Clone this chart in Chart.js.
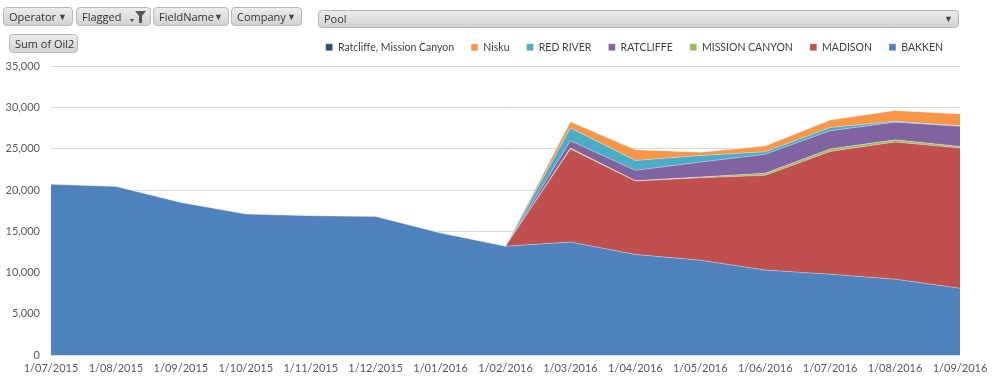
<!DOCTYPE html>
<html lang="en">

<head>
    <meta charset="UTF-8">
    <title>Sum of Oil2 by Pool</title>
    <script src="https://cdn.jsdelivr.net/npm/chart.js"></script>
    <style>
        body { margin: 0; background: #fff; width: 994px; height: 384px; overflow: hidden; position: relative; font-family: "Open Sans", sans-serif; }
        #wrap { position: absolute; left: 0; top: 0; width: 994px; height: 384px; }
        .btn {
            position: absolute; height: 17px; line-height: 17px; font-size: 11px; color: #333;
            border: 1px solid #b8b8b8; border-radius: 4px; padding-left: 5px; box-sizing: content-box;
            background: linear-gradient(#ececec, #d2d2d2);
        }
        .arrow { position: absolute; right: 5px; top: 0; font-size: 9px; color: #444; }
    </style>
</head>

<body>
    <div id="wrap"><canvas id="myChart"></canvas></div>

    <!-- botoes do pivot chart -->
    <div class="btn" style="left:3px;top:7px;width:63px;">Operator<span class="arrow">&#9660;</span></div>
    <div class="btn" style="left:76px;top:7px;width:68px;">Flagged
        <svg style="position:absolute;right:3px;top:2px" width="18" height="14">
            <polygon points="1,9 5,9 3,12" fill="#444" />
            <polygon points="6,1 17,1 13,6 13,13 10,13 10,6" fill="#555" />
        </svg>
    </div>
    <div class="btn" style="left:153px;top:7px;width:69px;">FieldName<span class="arrow">&#9660;</span></div>
    <div class="btn" style="left:231px;top:7px;width:64px;">Company<span class="arrow">&#9660;</span></div>
    <div class="btn" style="left:9px;top:34px;width:62px;">Sum of Oil2</div>
    <div class="btn" style="left:318px;top:10px;width:634px;height:16px;line-height:16px;">Pool<span class="arrow">&#9660;</span></div>

<script>
    // categorias (meses)
    const meses = ['1/07/2015', '1/08/2015', '1/09/2015', '1/10/2015', '1/11/2015', '1/12/2015', '1/01/2016',
        '1/02/2016', '1/03/2016', '1/04/2016', '1/05/2016', '1/06/2016', '1/07/2016', '1/08/2016', '1/09/2016'];

    // valores por pool
    const bakken = [20700, 20450, 18500, 17100, 16900, 16800, 14800, 13200, 13700, 12200, 11500, 10300, 9800, 9200, 8100];
    const madison = [0, 0, 0, 0, 0, 0, 0, 0, 11300, 8900, 10000, 11500, 14900, 16650, 17000];
    const missionCanyon = [0, 0, 0, 0, 0, 0, 0, 0, 100, 50, 100, 250, 300, 250, 200];
    const ratcliffe = [0, 0, 0, 0, 0, 0, 0, 0, 900, 1250, 1800, 2300, 2200, 2150, 2450];
    const redRiver = [0, 0, 0, 0, 0, 0, 0, 0, 1550, 1200, 800, 300, 400, 100, 50];
    const nisku = [0, 0, 0, 0, 0, 0, 0, 0, 750, 1300, 400, 700, 900, 1300, 1450];
    const ratcliffeMissionCanyon = [0, 0, 0, 0, 0, 0, 0, 0, 0, 0, 0, 0, 0, 0, 0];

    const yTicks = [0, 5000, 10000, 15000, 20000, 25000, 30000, 35000];

    Chart.defaults.font.family = 'Lato';
    Chart.defaults.color = '#595959';

    function serie(nome, dados, cor, fill) {
        return {
            label: nome,
            data: dados,
            backgroundColor: cor,
            borderColor: 'rgba(255,255,255,0.35)',
            borderWidth: 1,
            pointRadius: 0,
            tension: 0,
            fill: fill
        };
    }

    // espaco extra entre legenda e area do grafico
    const legendaEspaco = {
        id: 'legendaEspaco',
        beforeInit(chart) {
            const fitOriginal = chart.legend.fit;
            chart.legend.fit = function () {
                fitOriginal.bind(chart.legend)();
                this.height += 4;
            };
        }
    };

    const ctx = document.getElementById('myChart');

    new Chart(ctx, {
        type: 'line',
        data: {
            labels: meses,
            datasets: [
                serie('BAKKEN', bakken, '#4F81BD', 'origin'),
                serie('MADISON', madison, '#C0504D', '-1'),
                serie('MISSION CANYON', missionCanyon, '#9BBB59', '-1'),
                serie('RATCLIFFE', ratcliffe, '#8064A2', '-1'),
                serie('RED RIVER', redRiver, '#4BACC6', '-1'),
                serie('Nisku', nisku, '#F79646', '-1'),
                serie('Ratcliffe, Mission Canyon', ratcliffeMissionCanyon, '#2C4D75', '-1')
            ]
        },
        plugins: [legendaEspaco],
        options: {
            responsive: true,
            maintainAspectRatio: false,
            animation: false,
            layout: { padding: { top: 25, right: 34, left: 0, bottom: 10 } },
            plugins: {
                tooltip: { enabled: false },
                legend: {
                    position: 'top',
                    fullSize: false,
                    align: 'end',
                    reverse: true,
                    labels: {
                        boxWidth: 7,
                        boxHeight: 7,
                        padding: 17,
                        color: '#404040',
                        font: { size: 10.5 }
                    }
                }
            },
            scales: {
                x: {
                    grid: { display: false },
                    border: { display: false },
                    ticks: { maxRotation: 0, autoSkip: false, padding: 0, font: { size: 11, lineHeight: 1 } }
                },
                y: {
                    stacked: true,
                    min: 0,
                    max: 35000,
                    afterBuildTicks: (scale) => { scale.ticks = yTicks.map(v => ({ value: v })); },
                    afterFit: (scale) => { scale.width = 51; },
                    grid: { color: '#d9d9d9', drawTicks: false },
                    border: { display: false },
                    ticks: {
                        padding: 11,
                        font: { size: 11 },
                        callback: (v) => v.toLocaleString('en-US')
                    }
                }
            }
        }
    });
</script>
</body>

</html>
